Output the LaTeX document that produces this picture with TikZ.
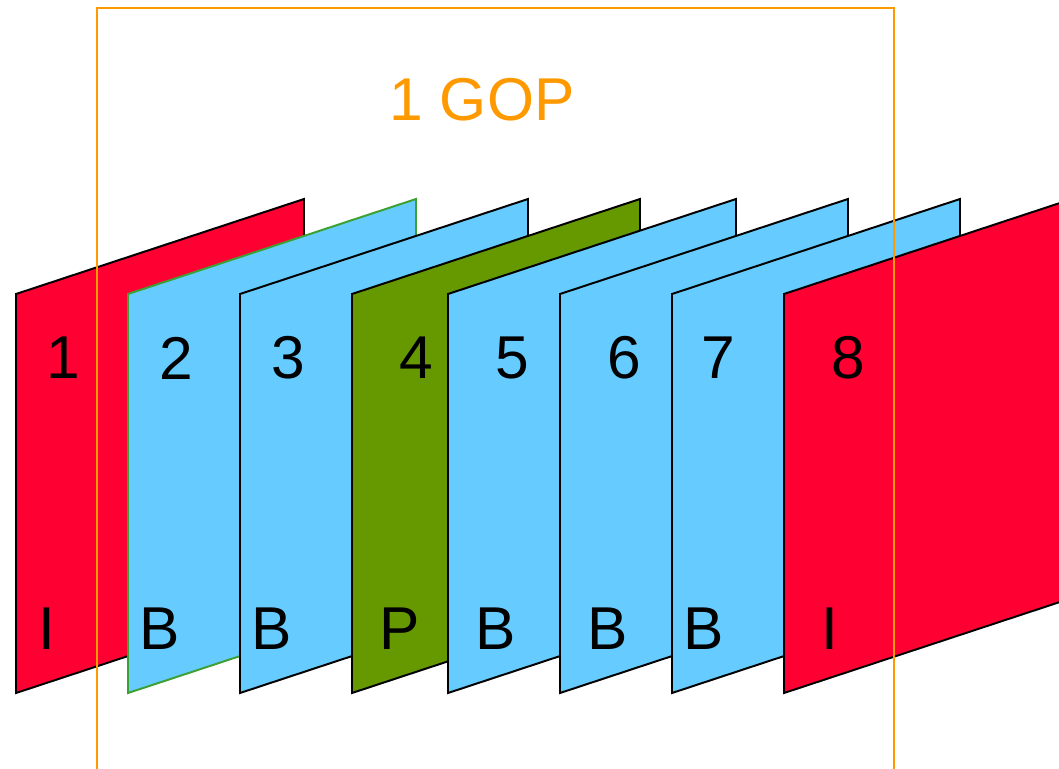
\documentclass[tikz,border=0pt]{standalone}
\usepackage{fontspec}
\setmainfont{Liberation Sans}

\definecolor{iRed}{RGB}{255,0,51}
\definecolor{bBlue}{RGB}{102,204,255}
\definecolor{pGreen}{RGB}{102,153,0}
\definecolor{edgeGreen}{RGB}{60,160,50}
\definecolor{gopOrange}{RGB}{255,153,0}

\tikzset{
  pic frame/.style={draw=black, line width=1.4pt, line join=miter},
  frame label/.style={font=\fontsize{43}{50}\selectfont, inner sep=0pt},
}

\begin{document}
\begin{tikzpicture}[x=0.025cm, y=-0.025cm]

    % Picture size
    \useasboundingbox (0,0) rectangle (1059,769);
    \clip (0,0) rectangle (1059,769);

    % Frames, back to front
    % left edge / fill / border / number x / type x / number / type
    \foreach \x/\fill/\edge/\nx/\tx/\n/\t in {
        16/iRed/black/63/47/1/I,
        128/bBlue/edgeGreen/176/160/2/B,
        240/bBlue/black/288/272/3/B,
        352/pGreen/black/416/400/4/P,
        448/bBlue/black/512/496/5/B,
        560/bBlue/black/624/608/6/B,
        672/bBlue/black/718/704/7/B,
        784/iRed/black/848/830/8/I}
    {
      \draw[pic frame, fill=\fill, draw=\edge]
        (\x,294) -- (\x+288,199) -- (\x+288,598) -- (\x,693) -- cycle;
      \node[frame label] (num\n) at (\nx,358) {\n};
      \node[frame label] (type\n) at (\tx,629) {\t};
    }

    % Group of pictures
    \draw[gopOrange, line width=1.4pt] (97,780) -- (97,8) -- (894,8) -- (894,780);
    \node[frame label, text=gopOrange] (gop) at (482,100) {1 GOP};

\end{tikzpicture}
\end{document}
